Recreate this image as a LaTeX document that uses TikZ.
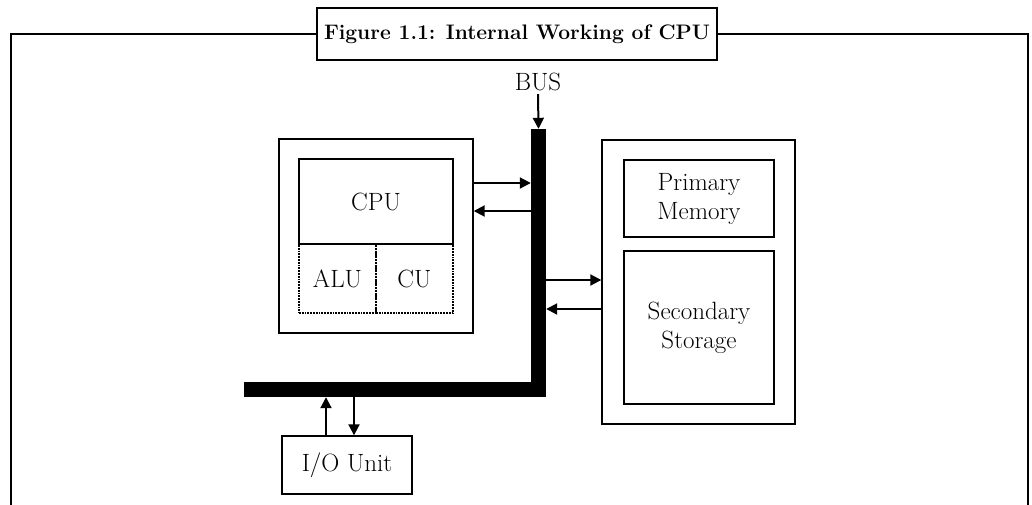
\documentclass[tikz,border=0pt]{standalone}
\usepackage{fontspec}
\usetikzlibrary{arrows.meta}
\begin{document}
\begin{tikzpicture}[x=1pt,y=-1pt,
  box/.style={draw,rectangle,inner sep=0pt,align=center,font=\fontsize{25}{29}\selectfont},
  outerbox/.style={box,line width=1.4pt},
  innerbox/.style={box,line width=1.8pt},
  dotbox/.style={box,line width=1.8pt,densely dotted},
  busbar/.style={rectangle,fill=black,inner sep=0pt},
  arr/.style={line width=2pt,-{Triangle[length=11pt,width=11pt]}}]
\useasboundingbox (0,0) rectangle (1032,504);
% frame
\coordinate (fbl) at (11,510);
\coordinate (ftl) at (11,34);
\coordinate (ftr) at (1028,34);
\coordinate (fbr) at (1028,510);
\draw[line width=2pt] (fbl) -- (ftl) -- (ftr) -- (fbr);
\node[draw,fill=white,line width=2pt,minimum height=52pt,inner xsep=7pt,anchor=west,
  font=\fontsize{21}{24}\selectfont\bfseries] (title) at (316,34) {Figure 1.1: Internal Working of CPU};
% CPU
\node[outerbox,minimum width=194pt,minimum height=194pt] (cpuo) at (376,236) {};
\node[innerbox,minimum width=154pt,minimum height=85pt] (cpu) at (376,201.5) {CPU};
\node[dotbox,minimum width=77pt,minimum height=69pt] (alu) at (337.5,278.5) {ALU};
\node[dotbox,minimum width=77pt,minimum height=69pt] (cu) at (414.5,278.5) {CU};
% memory
\node[outerbox,minimum width=193pt,minimum height=284pt] (memo) at (698.5,282) {};
\node[innerbox,line width=1.6pt,minimum width=150pt,minimum height=77pt] (prim) at (699,198.5) {Primary\\Memory};
\node[innerbox,line width=1.6pt,minimum width=150pt,minimum height=153pt] (sec) at (699,327.5) {Secondary\\Storage};
% I/O
\node[outerbox,minimum width=130pt,minimum height=58pt] (io) at (347,465) {I/O Unit};
% bus
\node[busbar,minimum width=15pt,minimum height=268pt] (busv) at (538.5,263) {};
\node[busbar,minimum width=302pt,minimum height=15pt] (bush) at (395,389.5) {};
\node[font=\fontsize{25}{29}\selectfont,inner sep=0pt] (buslabel) at (538,82) {BUS};
% connectors
\draw[arr] (buslabel.south) ++(0,3) -- (busv.north);
\draw[arr] (cpuo.east |- 0,183) -- (busv.west |- 0,183);
\draw[arr] (busv.west |- 0,211) -- (cpuo.east |- 0,211);
\draw[arr] (busv.east |- 0,280) -- (memo.west |- 0,280);
\draw[arr] (memo.west |- 0,309) -- (busv.east |- 0,309);
\draw[arr] (io.north -| 326,0) -- (bush.south -| 326,0);
\draw[arr] (bush.south -| 354,0) -- (io.north -| 354,0);
\end{tikzpicture}
\end{document}
